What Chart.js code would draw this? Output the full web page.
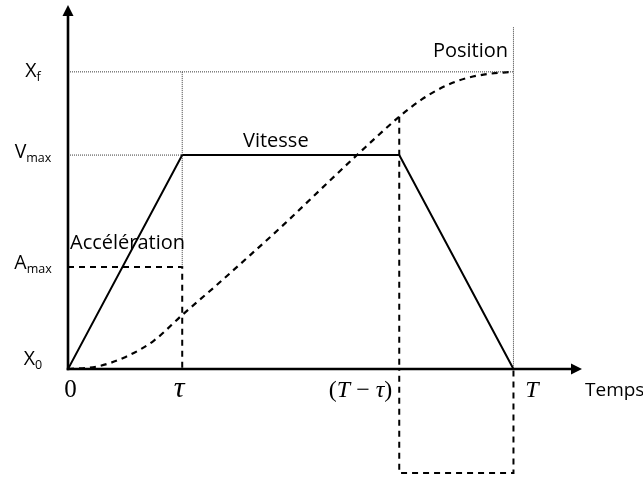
<!DOCTYPE html>
<html>
<head>
<meta charset="utf-8">
<script src="https://cdn.jsdelivr.net/npm/chart.js@4/dist/chart.umd.min.js"></script>
<style>
  html, body { margin: 0; padding: 0; background: #fff; }
  canvas { display: block; }
</style>
</head>
<body>
<canvas id="c" width="643" height="477"></canvas>
<script>
// Key instants of the trapezoidal motion profile (time units, tau = 1)
const timeTicks = [0, 1.0, 2.9, 3.9];
const timeTickLabels = ['0', 'τ', '(T − τ)', 'T'];

// Levels on the vertical axis: X0, Amax, Vmax, Xf
const levelValues = [0, 0.343, 0.72, 1.0];
const levelMain = ['X', 'A', 'V', 'X'];
const levelSub = ['0', 'max', 'max', 'f'];

// Velocity: trapezoid
const vitesseT = [0, 1.0, 2.9, 3.9];
const vitesseV = [0, 0.72, 0.72, 0];

// Acceleration: +Amax, 0, -Amax
const accelT = [0, 1.0, 1.0, 2.9, 2.9, 3.9, 3.9];
const accelV = [0.343, 0.343, 0, 0, -0.35, -0.35, 0];

// Position: S-curve from X0 to Xf
const positionT = [0, 0.25, 0.5, 0.75, 1.0, 1.3, 1.6, 1.9, 2.2, 2.53, 2.9, 3.1, 3.3, 3.5, 3.7, 3.9];
const positionV = [0, 0.008, 0.040, 0.095, 0.182, 0.282, 0.385, 0.490, 0.600, 0.720, 0.849, 0.908, 0.952, 0.980, 0.994, 1.0];

// Top of the dotted marker at T
const markerTop = 1.15;

const pts = (xs, ys) => xs.map((v, i) => ({ x: v, y: ys[i] }));
const GAP = { x: null, y: null };

const tau = timeTicks[1], tMinusTau = timeTicks[2], Tend = timeTicks[3];
const [x0Lvl, aMax, vMax, xF] = levelValues;
const posAtTmt = positionV[positionT.indexOf(tMinusTau)];

// Dotted guide lines
const guides = [
  { x: 0, y: xF }, { x: Tend, y: xF }, GAP,
  { x: 0, y: vMax }, { x: tau, y: vMax }, GAP,
  { x: tau, y: xF }, { x: tau, y: aMax }, GAP,
  { x: Tend, y: markerTop }, { x: Tend, y: x0Lvl }
];

// Dashed drop line from the position curve at (T - tau)
const drop = [{ x: tMinusTau, y: posAtTmt }, { x: tMinusTau, y: 0 }];

const DASH = [6, 5];
const TEXT_FONT = '"Open Sans", "Noto Sans", sans-serif';
const MATH_FONT = '"Liberation Serif", "DejaVu Serif", serif';

const axesAndLabels = {
  id: 'axesAndLabels',
  afterDatasetsDraw(chart) {
    const { ctx, chartArea, scales } = chart;
    const sx = scales.x, sy = scales.y;
    const ox = sx.getPixelForValue(0), oy = sy.getPixelForValue(0);
    ctx.save();
    ctx.fillStyle = '#000';
    ctx.strokeStyle = '#000';
    ctx.lineWidth = 2.6;
    ctx.lineCap = 'butt';

    // vertical axis with arrow
    ctx.beginPath();
    ctx.moveTo(ox, oy + 1.3);
    ctx.lineTo(ox, chartArea.top + 8);
    ctx.stroke();
    ctx.beginPath();
    ctx.moveTo(ox, chartArea.top);
    ctx.lineTo(ox - 5.5, chartArea.top + 11);
    ctx.lineTo(ox + 5.5, chartArea.top + 11);
    ctx.closePath();
    ctx.fill();

    // horizontal axis with arrow
    ctx.beginPath();
    ctx.moveTo(ox - 1.3, oy);
    ctx.lineTo(chartArea.right - 8, oy);
    ctx.stroke();
    ctx.beginPath();
    ctx.moveTo(chartArea.right, oy);
    ctx.lineTo(chartArea.right - 11, oy - 5.5);
    ctx.lineTo(chartArea.right - 11, oy + 5.5);
    ctx.closePath();
    ctx.fill();

    // level labels on the left
    const midOffsets = [-11, -5, -4.5, -1.5];
    const labelCenter = 33;
    levelValues.forEach((v, i) => {
      const py = sy.getPixelForValue(v) + midOffsets[i];
      ctx.font = '19.5px ' + TEXT_FONT;
      const wMain = ctx.measureText(levelMain[i]).width;
      ctx.font = '12.5px ' + TEXT_FONT;
      const wSub = ctx.measureText(levelSub[i]).width;
      const left = labelCenter - (wMain + wSub) / 2;
      const base = py + 7;
      ctx.textBaseline = 'alphabetic';
      ctx.textAlign = 'left';
      ctx.font = '19.5px ' + TEXT_FONT;
      ctx.fillText(levelMain[i], left, base);
      ctx.font = '12.5px ' + TEXT_FONT;
      ctx.fillText(levelSub[i], left + wMain, base + 4);
    });

    // time labels under the axis
    const mathSizes = [25, 30, 24, 24];
    const mathStyles = ['', 'italic ', '', 'italic '];
    const mathX = [70.5, 179, null, 532];
    ctx.textBaseline = 'alphabetic';
    timeTickLabels.forEach((lab, i) => {
      ctx.font = mathStyles[i] + mathSizes[i] + 'px ' + MATH_FONT;
      if (i === 2) {
        // "(T − τ)" set right-aligned just before its drop line
        const parts = [['(', ''], ['T', 'italic '], [' − ', ''], ['τ', 'italic '], [')', '']];
        const widths = parts.map(p => { ctx.font = p[1] + mathSizes[i] + 'px ' + MATH_FONT; return ctx.measureText(p[0]).width; });
        const total = widths.reduce((a, b) => a + b, 0);
        let xx = sx.getPixelForValue(tMinusTau) - 7 - total;
        parts.forEach((p, k) => {
          ctx.font = p[1] + mathSizes[i] + 'px ' + MATH_FONT;
          ctx.textAlign = 'left';
          ctx.fillText(p[0], xx, 397);
          xx += widths[k];
        });
      } else {
        ctx.textAlign = 'center';
        ctx.fillText(lab, mathX[i], 397);
      }
    });

    // curve names
    ctx.font = '20px ' + TEXT_FONT;
    ctx.textAlign = 'left';
    ctx.fillText('Accélération', 70, 249);
    ctx.fillText('Vitesse', 243, 147);
    ctx.textAlign = 'right';
    ctx.fillText('Position', 508, 57);
    ctx.font = '19px ' + TEXT_FONT;
    ctx.textAlign = 'left';
    ctx.fillText('Temps', 585, 396);
    ctx.restore();
  }
};

new Chart(document.getElementById('c'), {
  type: 'line',
  data: {
    datasets: [
      {
        label: 'guides',
        data: guides,
        borderColor: '#3a3a3a',
        borderWidth: 1,
        borderDash: [1, 1],
        spanGaps: false,
        pointRadius: 0,
        tension: 0
      },
      {
        label: 'Accélération',
        data: pts(accelT, accelV),
        borderColor: '#000',
        borderWidth: 2,
        borderDash: DASH,
        pointRadius: 0,
        tension: 0
      },
      {
        label: 'drop',
        data: drop,
        borderColor: '#000',
        borderWidth: 2,
        borderDash: DASH,
        pointRadius: 0,
        tension: 0
      },
      {
        label: 'Position',
        data: pts(positionT, positionV),
        borderColor: '#000',
        borderWidth: 2.2,
        borderDash: DASH,
        pointRadius: 0,
        cubicInterpolationMode: 'monotone'
      },
      {
        label: 'Vitesse',
        data: pts(vitesseT, vitesseV),
        borderColor: '#000',
        borderWidth: 2,
        pointRadius: 0,
        tension: 0
      }
    ]
  },
  options: {
    responsive: false,
    animation: false,
    events: [],
    layout: { padding: { left: 68, right: 61, top: 5, bottom: 1 } },
    plugins: { legend: { display: false }, tooltip: { enabled: false } },
    scales: {
      x: { type: 'linear', min: 0, max: 4.5, display: false },
      y: { type: 'linear', min: -0.36, max: 1.225, display: false }
    }
  },
  plugins: [axesAndLabels]
});
</script>
</body>
</html>
